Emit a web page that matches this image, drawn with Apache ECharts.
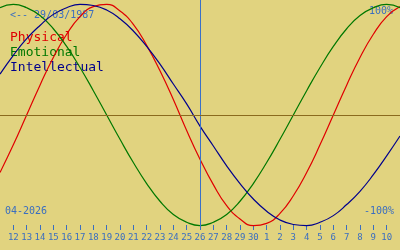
<!DOCTYPE html>
<html>
<head>
<meta charset="utf-8">
<script src="https://cdn.jsdelivr.net/npm/echarts@6/dist/echarts.min.js"></script>
<style>
html,body{margin:0;padding:0;background:#e1d37f;}
#c{width:400px;height:250px;}
</style>
</head>
<body>
<div id="c"></div>
<script>
// Days: April 11 .. May 11 (centre = April 26)
const days = ['11','12','13','14','15','16','17','18','19','20','21','22','23','24','25','26','27','28','29','30','1','2','3','4','5','6','7','8','9','10','11'];
const physical = [-52,-27,0,27,52,73,89,98,100,94,82,63,40,14,-14,-40,-63,-82,-94,-100,-98,-89,-73,-52,-27,0,27,52,73,89,98];
const emotional = [97,100,97,90,78,62,43,22,0,-22,-43,-62,-78,-90,-97,-100,-97,-90,-78,-62,-43,-22,0,22,43,62,78,90,97,100,97];
const intellectual = [37,54,69,81,91,97,100,99,95,87,76,62,46,28,10,-10,-28,-46,-62,-76,-87,-95,-99,-100,-97,-91,-81,-69,-54,-37,-19];
const seriesNames = ['Physical','Emotional','Intellectual'];
const birthLabel = '<-- 29/03/1987';
const monthLabel = '04-2026';
const topLabel = '100%';
const bottomLabel = '-100%';
const todayIndex = 15;

const mono = 'DejaVu Sans Mono';
const blue = '#3a6ec0';
const colors = ['#e00000','#007800','#00008c'];

const chart = echarts.init(document.getElementById('c'));
const showFn = (i) => i > 0 && i < days.length - 1;
chart.setOption({
  animation: false,
  backgroundColor: '#e1d37f',
  grid: {left: 0, right: 0, top: 0, bottom: 20, containLabel: false},
  xAxis: {
    type: 'category', boundaryGap: false, data: days,
    axisLine: {show: false, onZero: false},
    axisTick: {show: true, inside: true, length: 5, interval: showFn, lineStyle: {color: blue, width: 1}},
    axisLabel: {interval: showFn, color: blue, fontSize: 9, fontFamily: mono, margin: 3},
    splitLine: {show: false}
  },
  yAxis: {type: 'value', min: -104, max: 104, show: false},
  series: [
    {
      name: seriesNames[0], type: 'line', data: physical, smooth: true, symbol: 'none',
      lineStyle: {color: colors[0], width: 1.2}, z: 3,
      markLine: {
        silent: true, symbol: 'none', label: {show: false}, animation: false,
        data: [
          {xAxis: todayIndex, lineStyle: {color: '#3a70c8', width: 1, type: 'solid'}},
          {yAxis: 0, lineStyle: {color: '#8a6a1e', width: 1, type: 'solid'}}
        ]
      }
    },
    {name: seriesNames[1], type: 'line', data: emotional, smooth: true, symbol: 'none', lineStyle: {color: colors[1], width: 1.2}, z: 3},
    {name: seriesNames[2], type: 'line', data: intellectual, smooth: true, symbol: 'none', lineStyle: {color: colors[2], width: 1.2}, z: 3}
  ],
  graphic: [
    {type: 'text', left: 10, top: 10, style: {text: birthLabel, fill: blue, font: '10px ' + mono}},
    {type: 'text', left: 10, top: 31, style: {text: seriesNames[0], fill: colors[0], font: '13px ' + mono}},
    {type: 'text', left: 10, top: 46, style: {text: seriesNames[1], fill: colors[1], font: '13px ' + mono}},
    {type: 'text', left: 10, top: 61, style: {text: seriesNames[2], fill: colors[2], font: '13px ' + mono}},
    {type: 'text', right: 7, top: 6, style: {text: topLabel, fill: blue, font: '10px ' + mono}},
    {type: 'text', right: 6, top: 206, style: {text: bottomLabel, fill: blue, font: '10px ' + mono}},
    {type: 'text', left: 5, top: 206, style: {text: monthLabel, fill: blue, font: '10px ' + mono}}
  ]
});
</script>
</body>
</html>
